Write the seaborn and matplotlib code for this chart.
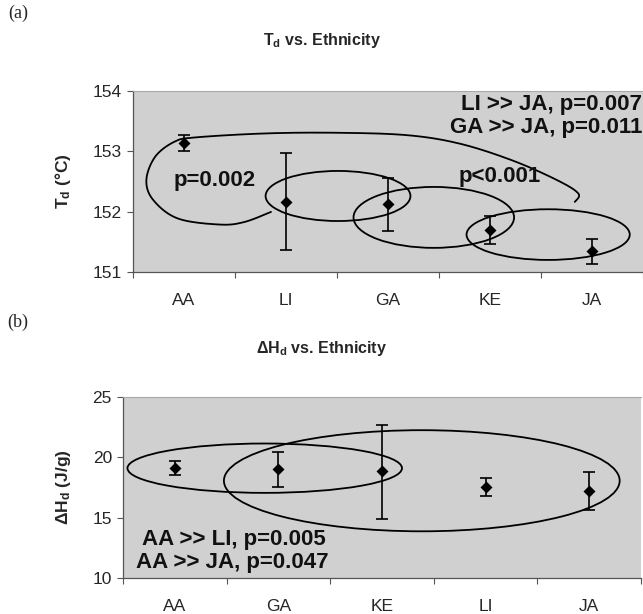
import numpy as np
import pandas as pd
import matplotlib
matplotlib.use("Agg")
import matplotlib.pyplot as plt
from matplotlib.patches import Ellipse
import seaborn as sns

sns.set_style("white")
plt.rcParams['font.family'] = ['Liberation Sans', 'DejaVu Sans']
plt.rcParams['mathtext.fontset'] = 'custom'
plt.rcParams['mathtext.rm'] = 'Liberation Sans'
plt.rcParams['mathtext.bf'] = 'Liberation Sans:bold'
plt.rcParams['mathtext.it'] = 'Liberation Sans:italic'

# ---------------- data ----------------
cats_a = ["AA", "LI", "GA", "KE", "JA"]
td_mean = [153.13, 152.16, 152.12, 151.69, 151.34]
td_hi = [153.27, 152.97, 152.56, 151.92, 151.55]
td_lo = [153.00, 151.36, 151.68, 151.47, 151.13]

cats_b = ["AA", "GA", "KE", "LI", "JA"]
dh_mean = [19.1, 19.05, 18.86, 17.56, 17.17]
dh_hi = [19.66, 20.47, 22.7, 18.25, 18.75]
dh_lo = [18.55, 17.55, 14.9, 16.78, 15.65]

# annotation shapes (center x, center y, width, height) in data units
ell_a = [(1.51, 152.26, 1.42, 0.83), (2.449, 151.905, 1.574, 1.01), (3.57, 151.62, 1.60, 0.84)]
ell_b = [(0.868, 19.1, 2.65, 4.09), (2.384, 18.06, 3.82, 8.38)]
curve_x = [0.853, 0.595, 0.354, -0.059, -0.300, -0.369, -0.283, -0.094, 0.113,
           0.801, 1.490, 2.179, 2.695, 3.212, 3.659, 3.866, 3.831]
curve_y = [151.996, 151.830, 151.786, 151.886, 152.190, 152.522, 152.910, 153.159, 153.231,
           153.297, 153.308, 153.269, 153.131, 152.854, 152.522, 152.301, 152.162]


def catmull(xs, ys, n=20):
    P = np.column_stack([xs, ys])
    P = np.vstack([P[0], P, P[-1]])
    out = []
    for i in range(1, len(P) - 2):
        p0, p1, p2, p3 = P[i - 1], P[i], P[i + 1], P[i + 2]
        for t in np.linspace(0, 1, n, endpoint=False):
            t2, t3 = t * t, t * t * t
            pt = 0.5 * ((2 * p1) + (-p0 + p2) * t + (2 * p0 - 5 * p1 + 4 * p2 - p3) * t2
                        + (-p0 + 3 * p1 - 3 * p2 + p3) * t3)
            out.append(pt)
    out.append(P[-2])
    out = np.array(out)
    return out[:, 0], out[:, 1]


W, H = 643, 614
fig = plt.figure(figsize=(W / 100, H / 100), dpi=100)
ax1 = fig.add_axes([133 / W, 1 - 272 / H, (643 - 133) / W, 181 / H])
ax2 = fig.add_axes([123 / W, 1 - 578 / H, (641 - 123) / W, 181 / H])

bg = '#d0d0d0'


def draw(ax, cats, mean, lo, hi, ylim, yticks):
    df = pd.DataFrame({"cat": cats, "val": mean})
    ax.set_facecolor(bg)
    xs = np.arange(len(cats))
    ax.errorbar(xs, mean, yerr=[np.array(mean) - np.array(lo), np.array(hi) - np.array(mean)],
                fmt='none', ecolor='black', elinewidth=1.2, capsize=4.5, capthick=1.2, zorder=3)
    sns.pointplot(data=df, x="cat", y="val", order=cats, color='black', marker='D',
                  linestyle='none', markersize=4.3, errorbar=None, ax=ax, zorder=4)
    ax.set_xlim(-0.5, len(cats) - 0.5)
    ax.set_ylim(*ylim)
    ax.set_yticks(yticks)
    ax.set_yticklabels([str(t) for t in yticks], fontsize=12.5)
    ax.set_xticks(xs)
    ax.set_xticklabels(cats, fontsize=12.5)
    ax.set_xticks(np.arange(len(cats) + 1) - 0.5, minor=True)
    ax.tick_params(axis='x', which='major', length=0, pad=15)
    ax.tick_params(axis='x', which='minor', length=4, width=0.8, color='#555555', direction='out', bottom=True)
    ax.tick_params(axis='y', length=4, width=0.8, color='#555555', direction='out', left=True, pad=4)
    ax.set_xlabel("")
    for s in ['left', 'bottom']:
        ax.spines[s].set_color('#555555')
        ax.spines[s].set_linewidth(0.9)
    ax.spines['top'].set_color('#a8a8a8')
    ax.spines['top'].set_linewidth(0.8)
    ax.spines['right'].set_visible(False)


draw(ax1, cats_a, td_mean, td_lo, td_hi, (151, 154), [151, 152, 153, 154])
draw(ax2, cats_b, dh_mean, dh_lo, dh_hi, (10, 25), [10, 15, 20, 25])

for cx, cy, w, h in ell_a:
    ax1.add_patch(Ellipse((cx, cy), w, h, fill=False, edgecolor='black', linewidth=1.3, zorder=2))
for cx, cy, w, h in ell_b:
    ax2.add_patch(Ellipse((cx, cy), w, h, fill=False, edgecolor='black', linewidth=1.3, zorder=2))
cx_, cy_ = catmull(curve_x, curve_y)
ax1.plot(cx_, cy_, color='black', linewidth=1.3, zorder=2)

ax1.set_ylabel(r'$\mathbf{T_d}$ (°C)', fontsize=12.5, fontweight='bold', labelpad=14)
ax2.set_ylabel(r'ΔH$\mathbf{_d}$ (J/g)', fontsize=12.5, fontweight='bold', labelpad=14)

tk = dict(fontsize=16, fontweight='bold', color='#111111')
ax1.text(4.49, 153.77, "LI >> JA, p=0.007", ha='right', va='center', **tk)
ax1.text(4.49, 153.39, "GA >> JA, p=0.011", ha='right', va='center', **tk)
ax1.text(0.30, 152.52, "p=0.002", ha='center', va='center', **tk)
ax1.text(3.10, 152.58, "p<0.001", ha='center', va='center', **tk)
ax2.text(-0.32, 13.19, "AA >> LI, p=0.005", ha='left', va='center', **tk)
ax2.text(-0.37, 11.28, "AA >> JA, p=0.047", ha='left', va='center', **tk)

fig.text(322 / W, 1 - 41 / H, r'$\mathbf{T_d}$ vs. Ethnicity', ha='center', va='center',
         fontsize=11.5, fontweight='bold')
fig.text(322 / W, 1 - 349 / H, r'ΔH$\mathbf{_d}$ vs. Ethnicity', ha='center', va='center',
         fontsize=11.5, fontweight='bold')
fig.text(18 / W, 1 - 13 / H, "(a)", ha='center', va='center', fontsize=13, family='Liberation Serif')
fig.text(18 / W, 1 - 322 / H, "(b)", ha='center', va='center', fontsize=13, family='Liberation Serif')

fig.savefig("out.png", dpi=100)
